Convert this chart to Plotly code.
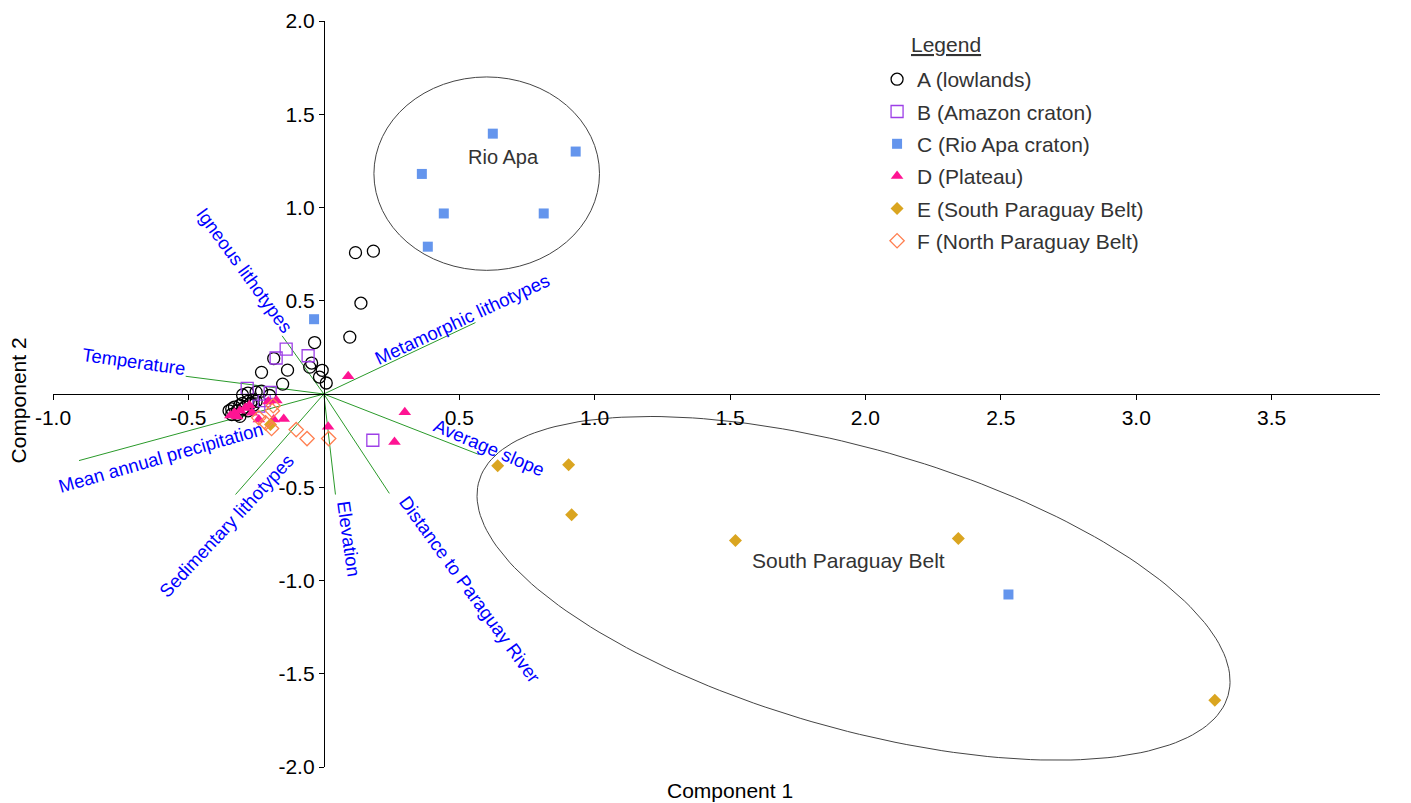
import numpy as np
import plotly.graph_objects as go

FONT = "Liberation Sans, Arial, sans-serif"

# ---------------- data ----------------
A_x = [0.117, 0.183, 0.137, 0.096, -0.034, -0.045, -0.052, -0.006, -0.016, 0.009,
       -0.185, -0.134, -0.230, -0.152,
       -0.300, -0.280, -0.250, -0.230, -0.200,
       -0.260, -0.280, -0.300, -0.310, -0.270, -0.250, -0.330, -0.320, -0.340,
       -0.350, -0.300, -0.290, -0.320, -0.340, -0.310, -0.280, -0.260]
A_y = [0.758, 0.766, 0.487, 0.305, 0.276, 0.166, 0.144, 0.127, 0.091, 0.059,
       0.190, 0.128, 0.116, 0.053,
       -0.005, 0.005, 0.010, 0.015, -0.008,
       -0.030, -0.040, -0.050, -0.060, -0.050, -0.040, -0.070, -0.090, -0.080,
       -0.090, -0.080, -0.070, -0.110, -0.110, -0.120, -0.090, -0.060]

B_x = [-0.139, -0.176, -0.058, -0.283, -0.198, -0.220, -0.240, 0.181]
B_y = [0.241, 0.193, 0.205, 0.030, 0.008, -0.035, -0.065, -0.248]

C_x = [0.624, 0.930, 0.362, 0.443, 0.812, 0.384, -0.036, 2.528]
C_y = [1.396, 1.300, 1.180, 0.968, 0.968, 0.790, 0.401, -1.075]

D_x = [0.090, 0.299, 0.016, 0.261, -0.175, -0.205, -0.240, -0.185, -0.148,
       -0.345, -0.330, -0.310, -0.290, -0.275, -0.320, -0.265]
D_y = [0.095, -0.098, -0.176, -0.257, -0.035, -0.040, -0.137, -0.137, -0.134,
       -0.115, -0.100, -0.090, -0.075, -0.060, -0.120, -0.100]

E_x = [-0.197, 0.642, 0.904, 0.915, 1.520, 2.343, 3.290]
E_y = [-0.164, -0.385, -0.380, -0.647, -0.786, -0.775, -1.642]

F_x = [-0.187, -0.190, -0.215, -0.193, -0.240, -0.102, -0.062, 0.018]
F_y = [-0.063, -0.090, -0.155, -0.185, -0.128, -0.191, -0.239, -0.239]

group_names = ["A (lowlands)", "B (Amazon craton)", "C (Rio Apa craton)",
               "D (Plateau)", "E (South Paraguay Belt)", "F (North Paraguay Belt)"]

load_names = ["Temperature", "Mean annual precipitation", "Sedimentary lithotypes",
              "Elevation", "Distance to Paraguay River", "Average slope",
              "Metamorphic lithotypes", "Igneous lithotypes"]
load_x = [-0.510, -0.904, -0.326, 0.043, 0.242, 0.572, 0.560, -0.154]
load_y = [0.095, -0.357, -0.539, -0.539, -0.533, -0.324, 0.383, 0.312]
label_x = [-0.701, -0.601, -0.358, 0.092, 0.539, 0.609, 0.509, -0.292]
label_y = [0.176, -0.342, -0.706, -0.775, -1.048, -0.289, 0.401, 0.663]
label_angle = [8, -16, -47, 82, 54, 23, -25, 54]

x_tickvals = [-1.0, -0.5, 0.5, 1.0, 1.5, 2.0, 2.5, 3.0, 3.5]
x_ticktext = ["-1.0", "-0.5", "0.5", "1.0", "1.5", "2.0", "2.5", "3.0", "3.5"]
y_tickvals = [-2.0, -1.5, -1.0, -0.5, 0.5, 1.0, 1.5, 2.0]
y_ticktext = ["-2.0", "-1.5", "-1.0", "-0.5", "0.5", "1.0", "1.5", "2.0"]

x_range = [-1.0, 3.9]
y_range = [-2.0, 2.0]

# group ellipses (annotation outlines)
rio_apa_box = [0.185, 0.663, 1.018, 1.700]          # x0, y0, x1, y1
spb_center = [1.956, -1.042]
spb_major = [1.383, -0.575]
spb_minor = [-0.1426, -0.720]

# ---------------- figure ----------------
fig = go.Figure()

# loading vectors
for lx, ly in zip(load_x, load_y):
    fig.add_trace(go.Scatter(x=[0, lx], y=[0, ly], mode="lines",
                             line=dict(color="#2a9a2a", width=1),
                             showlegend=False, hoverinfo="skip"))

# South Paraguay Belt ellipse
t = np.linspace(0, 2 * np.pi, 200)
ex = spb_center[0] + spb_major[0] * np.cos(t) + spb_minor[0] * np.sin(t)
ey = spb_center[1] + spb_major[1] * np.cos(t) + spb_minor[1] * np.sin(t)
fig.add_trace(go.Scatter(x=ex, y=ey, mode="lines",
                         line=dict(color="#444444", width=1),
                         showlegend=False, hoverinfo="skip"))

styles = [
    dict(symbol="circle-open", color="#000000", size=12, line=dict(width=1.3, color="#000000")),
    dict(symbol="square-open", color="#9D3FE7", size=12, line=dict(width=1.3, color="#9D3FE7")),
    dict(symbol="square", color="#6495ED", size=10, line=dict(width=0)),
    dict(symbol="triangle-up", color="#FF1493", size=11, line=dict(width=0)),
    dict(symbol="diamond", color="#DAA520", size=10, line=dict(width=0)),
    dict(symbol="diamond-open", color="#FF7F50", size=11, line=dict(width=1.3, color="#FF7F50")),
]
xs = [A_x, B_x, C_x, D_x, E_x, F_x]
ys = [A_y, B_y, C_y, D_y, E_y, F_y]
for i, (name, gx, gy, st) in enumerate(zip(group_names, xs, ys, styles)):
    fig.add_trace(go.Scatter(x=gx, y=gy, mode="markers", name=name,
                             legendgroup=name, marker=st))

# loading labels
for name, tx, ty, ang in zip(load_names, label_x, label_y, label_angle):
    fig.add_annotation(x=tx, y=ty, text=name, showarrow=False, textangle=ang,
                       font=dict(family=FONT, size=18.5, color="#0000FF"))

fig.add_annotation(x=0.664, y=1.273, text="Rio Apa", showarrow=False,
                   font=dict(family=FONT, size=20, color="#333333"))
fig.add_annotation(x=1.937, y=-0.893, text="South Paraguay Belt", showarrow=False,
                   font=dict(family=FONT, size=21, color="#333333"))

fig.add_annotation(xref="paper", yref="paper", x=0.510, y=-0.031,
                   xanchor="center", yanchor="middle",
                   text="Component 1", showarrow=False,
                   font=dict(family=FONT, size=21, color="#000000"))
fig.add_annotation(xref="paper", yref="paper", x=-0.026, y=0.492,
                   xanchor="center", yanchor="middle",
                   text="Component 2", showarrow=False, textangle=-90,
                   font=dict(family=FONT, size=21, color="#000000"))
fig.add_annotation(xref="paper", yref="paper", x=0.673, y=0.968,
                   xanchor="center", yanchor="middle",
                   text="<u>Legend</u>", showarrow=False,
                   font=dict(family=FONT, size=21, color="#333333"))

fig.add_shape(type="circle", xref="x", yref="y",
              x0=rio_apa_box[0], y0=rio_apa_box[1], x1=rio_apa_box[2], y1=rio_apa_box[3],
              line=dict(color="#444444", width=1))

yaxis_pos = (0 - x_range[0]) / (x_range[1] - x_range[0])
xaxis_pos = (0 - y_range[0]) / (y_range[1] - y_range[0])

fig.update_layout(
    width=1411, height=803,
    margin=dict(l=45, r=39, t=13, b=44, autoexpand=False),
    paper_bgcolor="white", plot_bgcolor="white",
    font=dict(family=FONT, size=20, color="#000000"),
    xaxis=dict(range=x_range, anchor="free", position=xaxis_pos, automargin=False,
               ticklabeloverflow="allow",
               showgrid=False, zeroline=False, showline=True, linecolor="#000000",
               linewidth=1, ticks="outside", ticklen=5, tickcolor="#000000",
               tickvals=x_tickvals, ticktext=x_ticktext,
               tickfont=dict(family=FONT, size=21, color="#000000")),
    yaxis=dict(range=y_range, anchor="free", position=yaxis_pos, automargin=False,
               ticklabeloverflow="allow",
               showgrid=False, zeroline=False, showline=True, linecolor="#000000",
               linewidth=1, ticks="outside", ticklen=5, tickcolor="#000000",
               tickvals=y_tickvals, ticktext=y_ticktext,
               tickfont=dict(family=FONT, size=21, color="#000000")),
    legend=dict(x=0.621, y=0.949, xanchor="left", yanchor="top",
                font=dict(family=FONT, size=21, color="#333333"),
                bgcolor="rgba(0,0,0,0)", tracegroupgap=2),
    showlegend=True,
)

fig.write_html("out.html")
